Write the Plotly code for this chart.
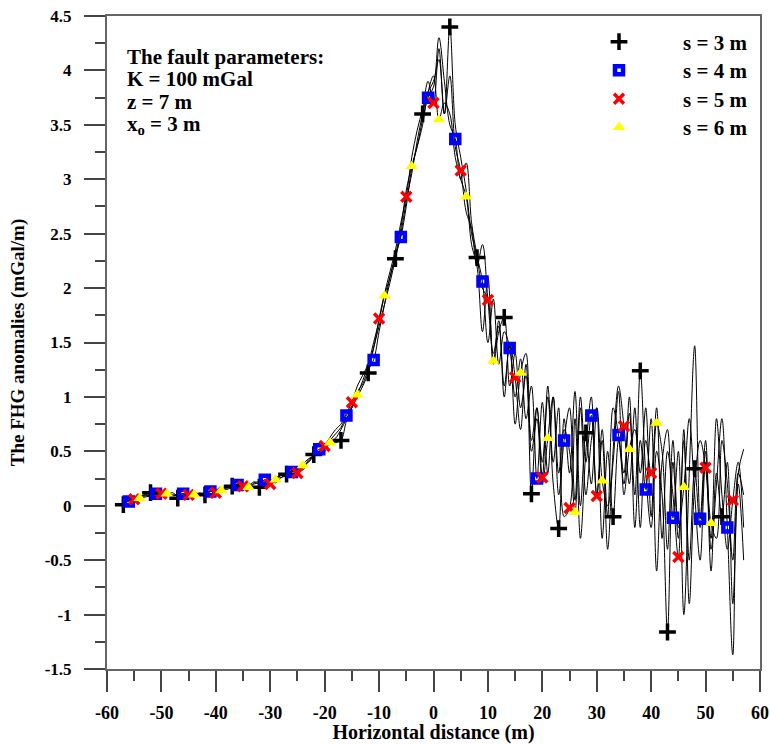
import plotly.graph_objects as go

# Horizontal distance (m), 1 m sampling
x_line = list(range(-57, 58))

# FHG anomalies (mGal/m) for each window size s
s3_line = [0.01, 0.05, 0.07, 0.08, 0.1,
           0.12, 0.1, 0.09, 0.11, 0.08,
           0.07, 0.1, 0.11, 0.09, 0.12,
           0.1, 0.13, 0.15, 0.13, 0.17,
           0.18, 0.2, 0.18, 0.21, 0.17,
           0.17, 0.22, 0.24, 0.21, 0.26,
           0.29, 0.32, 0.3, 0.36, 0.4,
           0.47, 0.5, 0.55, 0.57, 0.58,
           0.6, 0.78, 0.9, 1.0, 1.1,
           1.22, 1.45, 1.65, 1.85, 2.05,
           2.27, 2.5, 2.8, 3.05, 3.35,
           3.6, 3.8, 3.9, 4.1, 3.6,
           4.4, 3.5, 3.2, 2.9, 2.5,
           2.28, 2.0, 1.9, 1.3, 1.6,
           1.73, 1.1, 1.4, 0.9, 1.2,
           0.11, 0.9, 0.4, 1.0, 0.2,
           -0.21, 0.8, 0.3, 1.05, 0.0,
           0.67, 0.2, 0.9, -0.3, 0.5,
           -0.1, 0.6, 0.2, 0.85, 0.1,
           1.24, 0.3, -0.2, 0.5, 0.1,
           -1.16, 0.4, -0.3, 0.6, -0.5,
           0.34, -0.2, 0.5, -0.6, 0.3,
           -0.1, 0.4, -0.9, 0.2, -0.5]

s4_line = [0.03, 0.04, 0.07, 0.09, 0.1,
           0.1, 0.11, 0.12, 0.1, 0.09,
           0.1, 0.11, 0.09, 0.12, 0.1,
           0.12, 0.13, 0.14, 0.16, 0.15,
           0.17, 0.19, 0.2, 0.18, 0.22,
           0.2, 0.24, 0.22, 0.27, 0.26,
           0.28, 0.31, 0.34, 0.33, 0.42,
           0.45, 0.52, 0.5, 0.6, 0.66,
           0.72, 0.83, 0.92, 1.05, 1.12,
           1.25, 1.34, 1.6, 1.85, 2.1,
           2.3, 2.47, 2.75, 3.1, 3.3,
           3.55, 3.75, 3.85, 4.3, 3.9,
           3.5, 3.37, 3.0, 3.15, 2.6,
           2.3, 2.06, 1.5, 1.9, 1.3,
           1.6, 1.45, 1.0, 1.35, 0.8,
           1.1, 0.25, 0.95, 0.3, 1.0,
           0.1, 0.6, 0.9, 0.05, 1.0,
           0.4, 0.83, 0.1, 0.7, -0.1,
           0.9, 0.65, 0.3, 1.0, -0.2,
           0.6, 0.15, 0.8, -0.6, 0.4,
           0.7, -0.11, 0.5, -1.0, 0.3,
           1.47, -0.12, 0.6, -0.4, 0.2,
           0.8, -0.2, -1.37, 0.3, 0.52]

s5_line = [0.05, 0.06, 0.06, 0.08, 0.09,
           0.1, 0.12, 0.11, 0.1, 0.12,
           0.09, 0.11, 0.1, 0.12, 0.11,
           0.11, 0.14, 0.12, 0.15, 0.17,
           0.16, 0.2, 0.18, 0.17, 0.21,
           0.22, 0.19, 0.2, 0.25, 0.28,
           0.27, 0.33, 0.3, 0.38, 0.43,
           0.46, 0.5, 0.55, 0.63, 0.7,
           0.75, 0.85, 0.95, 1.1, 1.2,
           1.3, 1.45, 1.72, 1.95, 2.15,
           2.35, 2.6, 2.84, 3.2, 3.45,
           3.65, 3.9, 3.7, 4.2, 3.6,
           3.95, 3.3, 3.08, 2.7, 2.55,
           2.2, 2.4, 1.89, 1.4, 1.65,
           1.0, 1.5, 1.18, 0.7, 1.3,
           0.6, 0.9, 0.26, 1.1, 0.4,
           0.9, -0.1, -0.02, 0.8, -0.3,
           0.5, 1.0, 0.09, 0.6, -0.4,
           0.5, 1.1, 0.73, 0.2, 0.9,
           -0.2, 0.6, 0.3, 0.9, -0.3,
           0.5, 0.1, -0.47, 0.7, -0.9,
           0.2, 0.6, 0.35, -0.3, 0.8,
           0.1, -0.4, 0.05, 0.4, -0.2]

s6_line = [0.04, 0.05, 0.07, 0.07, 0.08,
           0.09, 0.1, 0.12, 0.11, 0.1,
           0.1, 0.09, 0.11, 0.1, 0.11,
           0.12, 0.11, 0.13, 0.14, 0.16,
           0.17, 0.18, 0.19, 0.17, 0.2,
           0.21, 0.23, 0.21, 0.24, 0.28,
           0.3, 0.32, 0.33, 0.37, 0.4,
           0.45, 0.49, 0.53, 0.58, 0.62,
           0.7, 0.8, 0.9, 1.02, 1.15,
           1.3, 1.5, 1.7, 1.93, 2.1,
           2.3, 2.55, 2.9, 3.12, 3.3,
           3.5, 3.8, 3.95, 3.55, 3.7,
           3.6, 3.2, 3.0, 2.84, 2.4,
           2.2, 1.6, 2.1, 1.33, 1.7,
           1.1, 1.5, 0.75, 1.22, 1.4,
           0.5, 0.8, 0.2, 0.62, 1.0,
           0.3, 0.7, 0.5, -0.06, 0.9,
           0.1, 0.6, 0.9, 0.23, 0.0,
           0.4, 1.05, 0.1, 0.52, 0.7,
           0.3, 0.9, -0.1, 0.76, 0.5,
           -0.4, 0.6, -0.2, 0.17, 0.8,
           0.1, -0.5, 0.4, -0.16, -0.3,
           0.6, 0.2, -0.5, 0.3, 0.1]

series_names = ["s = 3 m", "s = 4 m", "s = 5 m", "s = 6 m"]
x_ticks = list(range(-60, 61, 10))
x_ticktext = [str(v) for v in x_ticks]
y_ticks = [-1.5, -1, -0.5, 0, 0.5, 1, 1.5, 2, 2.5, 3, 3.5, 4, 4.5]
y_ticktext = ["-1.5", "-1", "-0.5", "0", "0.5", "1", "1.5", "2", "2.5", "3", "3.5", "4", "4.5"]
param_lines = ["The fault parameters:", "K = 100 mGal", "z = 7 m", "x<sub>o</sub> = 3 m"]

FONT = "Liberation Serif"
L, R, T, B = 107, 10, 16, 75
W, H = 770, 744
PW, PH = W - L - R, H - T - B


def px(xp):
    return (xp - L) / PW


def py(yp):
    return (H - B - yp) / PH


fig = go.Figure()

# thin black spline curves
for ys in (s3_line, s4_line, s5_line, s6_line):
    fig.add_trace(go.Scatter(x=x_line, y=ys, mode="lines", showlegend=False,
                             line=dict(color="black", width=1, shape="spline", smoothing=1.0),
                             hoverinfo="skip"))

# markers (every 5th sample)
marker_specs = [
    (s3_line, 0, None, dict(symbol="cross-thin", size=12, color="black",
                            line=dict(color="black", width=3.5))),
    (s4_line, 1, None, dict(symbol="square-open", size=8, color="#0000ff",
                            line=dict(color="#0000ff", width=4.5))),
    (s5_line, 2, None, dict(symbol="x-thin", size=10, color="#ff0000",
                            line=dict(color="#ff0000", width=3.5))),
    (s6_line, 3, 113, dict(symbol="triangle-up", size=11, color="#ffff00",
                           line=dict(width=0))),
]
legend_ids = ["legend", "legend2", "legend3", "legend4"]
legend_rows = [42, 70.5, 99, 127.5]
for (ys, start, stop, mk), name, lg in zip(marker_specs, series_names, legend_ids):
    fig.add_trace(go.Scatter(x=x_line[start:stop:5], y=ys[start:stop:5], mode="markers",
                             name=name, marker=mk, legend=lg))

for txt, yy in zip(param_lines, [57, 79, 102, 125]):
    fig.add_annotation(text=txt, xref="paper", yref="paper",
                       x=px(125), y=py(yy),
                       xanchor="left", yanchor="middle", showarrow=False,
                       font=dict(family=FONT, size=21, color="black", weight="bold"))

axis_common = dict(showgrid=False, zeroline=False, showline=True, linecolor="#666666",
                   linewidth=2, mirror=True, ticks="outside", ticklen=21, tickwidth=1.5,
                   tickcolor="#444444", automargin=False, tickmode="array")

fig.update_xaxes(range=[-60, 60], tickvals=x_ticks, ticktext=x_ticktext, **axis_common,
                 minor=dict(dtick=5, ticks="outside", ticklen=10, tickwidth=1.5, tickcolor="#444444"),
                 tickfont=dict(family=FONT, size=18, color="black", weight="bold"),
                 ticklabelstandoff=5,
                 title=dict(text="Horizontal distance (m)", standoff=12,
                            font=dict(family=FONT, size=20, color="black", weight="bold")))
fig.update_yaxes(range=[-1.5, 4.5], tickvals=y_ticks, ticktext=y_ticktext, **axis_common,
                 minor=dict(dtick=0.25, ticks="outside", ticklen=10, tickwidth=1.5, tickcolor="#444444"),
                 tickfont=dict(family=FONT, size=17, color="black", weight="bold"),
                 ticklabelstandoff=9,
                 title=dict(text="The FHG anomalies (mGal/m)", standoff=15,
                            font=dict(family=FONT, size=19, color="black", weight="bold")))

legend_font = dict(family=FONT, size=21, color="black", weight="bold")
layout_legends = {}
for lg, row in zip(legend_ids, legend_rows):
    layout_legends[lg] = dict(x=px(555), y=py(row), xanchor="left", yanchor="middle",
                              itemwidth=118, bgcolor="rgba(0,0,0,0)", font=legend_font)

fig.update_layout(width=W, height=H, margin=dict(l=L, r=R, t=T, b=B),
                  paper_bgcolor="white", plot_bgcolor="white",
                  font=dict(family=FONT, color="black"),
                  **layout_legends)

fig.write_html("out.html", config={"displayModeBar": False},
               post_script="document.body.style.margin='0';document.body.style.overflow='hidden';")
